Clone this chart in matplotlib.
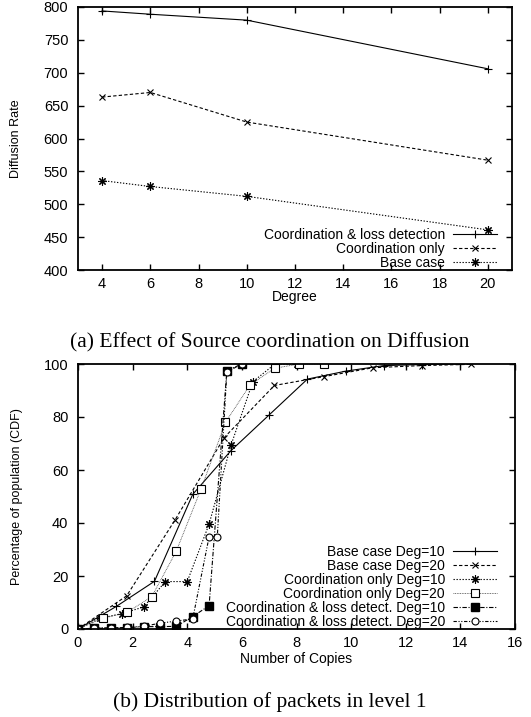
import matplotlib
matplotlib.use("Agg")
import matplotlib.pyplot as plt

plt.rcParams['font.family'] = ['Liberation Sans', 'DejaVu Sans']

# ---- Panel (a) data ----
degree = [4, 6, 10, 20]
coord_loss = [794, 789, 780, 706]
coord_only = [663, 670, 625, 567]
base_case = [536, 527, 512, 461]

# ---- Panel (b) data ----
b10_x = [0, 1.4, 2.8, 4.2, 5.6, 7.0, 8.4, 9.8, 11.2, 12.6, 14.0]
b10_y = [0, 8.5, 18.0, 50.8, 67.3, 80.8, 94.3, 97.3, 99.4, 99.8, 100]
b20_x = [0, 1.78, 3.55, 5.35, 7.19, 8.99, 10.8, 12.59, 14.4]
b20_y = [0, 12.5, 41.1, 72.2, 91.9, 95.2, 98.6, 99.4, 99.9]
c10_x = [0, 0.8, 1.6, 2.4, 3.2, 4.0, 4.8, 5.6, 6.4, 7.2, 8.0]
c10_y = [0, 4.0, 5.8, 8.3, 17.9, 17.9, 39.6, 69.3, 93.3, 99.9, 100]
c20_x = [0, 0.9, 1.8, 2.7, 3.6, 4.5, 5.4, 6.3, 7.2, 8.1, 9.0]
c20_y = [0, 4.0, 6.3, 12.2, 29.4, 52.7, 78.0, 92.1, 98.4, 100, 100]
l10_x = [0, 0.6, 1.2, 1.8, 2.4, 3.0, 3.6, 4.2, 4.8, 5.45, 6.0]
l10_y = [0, 0.3, 0.5, 0.5, 0.9, 0.9, 1.0, 4.7, 8.8, 97.5, 100]
l20_x = [0, 0.6, 1.2, 1.8, 2.4, 3.0, 3.6, 4.2, 4.8, 5.1, 5.45, 6.0]
l20_y = [0, 0.2, 0.4, 0.6, 1.0, 2.2, 3.0, 3.8, 34.8, 34.8, 97.0, 100]

W, H = 531, 717
fig = plt.figure(figsize=(W / 100, H / 100), dpi=100)

def axes_px(left, right, top, bottom):
    return fig.add_axes([left / W, 1 - bottom / H, (right - left) / W, (bottom - top) / H])

FS = 10.5
LFS = 10
lw = 0.8

def style_axes(ax):
    for s in ax.spines.values():
        s.set_linewidth(1.3)
    ax.tick_params(direction='in', length=4.3, width=1.0, top=True, right=True,
                   labelsize=FS)
    ax.tick_params(axis='y', pad=7)
    ax.tick_params(axis='x', pad=5)

# ---------- Panel (a) ----------
ax1 = axes_px(78, 512, 7, 270)
ax1.plot(degree, coord_loss, color='k', lw=lw, ls='-', marker='+', ms=6, mew=0.8,
         label='Coordination & loss detection')
ax1.plot(degree, coord_only, color='k', lw=lw, ls=(0, (3, 2)), marker='x', ms=5, mew=0.8,
         label='Coordination only')
ax1.plot(degree, base_case, color='k', lw=lw, ls=(0, (1.2, 1.5)), marker=(8, 2, 0), ms=6, mew=0.8,
         label='Base case')
ax1.set_xlim(3, 21)
ax1.set_ylim(400, 800)
ax1.set_xticks(range(4, 21, 2))
ax1.set_yticks(range(400, 801, 50))
style_axes(ax1)
ax1.set_xlabel('Degree', fontsize=10)
ax1.set_ylabel('Diffusion Rate', fontsize=9)
ax1.xaxis.set_label_coords(0.5, -0.075)
ax1.yaxis.set_label_coords(-0.129, 0.5)
ax1.legend(loc='lower right', bbox_to_anchor=(0.9654, 0.0), frameon=False,
           markerfirst=False, fontsize=LFS, handlelength=3.2, handletextpad=0.55,
           labelspacing=0.0, borderpad=0, borderaxespad=0, numpoints=1)

fig.text(270 / W, 1 - 343 / H, '(a) Effect of Source coordination on Diffusion',
         family='Liberation Serif', fontsize=15.5, ha='center', va='center')

# ---------- Panel (b) ----------
ax2 = axes_px(78, 515, 364, 629)
ax2.plot(b10_x, b10_y, color='k', lw=lw, ls='-', marker='+', ms=6, mew=0.8,
         label='Base case Deg=10')
ax2.plot(b20_x, b20_y, color='k', lw=lw, ls=(0, (3, 2)), marker='x', ms=5, mew=0.8,
         label='Base case Deg=20')
ax2.plot(c10_x, c10_y, color='k', lw=lw, ls=(0, (1.2, 1.5)), marker=(8, 2, 0), ms=6, mew=0.8,
         label='Coordination only Deg=10')
ax2.plot(c20_x, c20_y, color='#444444', lw=0.6, ls=(0, (1, 1)), marker='s', ms=5.5, mew=0.8,
         mfc='white', mec='k', label='Coordination only Deg=20')
ax2.plot(l10_x, l10_y, color='k', lw=lw, ls=(0, (4, 1.5, 1, 1.5)), marker='s', ms=5.5,
         mfc='k', mec='k', label='Coordination & loss detect. Deg=10')
ax2.plot(l20_x, l20_y, color='k', lw=lw, ls=(0, (3, 1.5, 1, 1.5, 1, 1.5)), marker='o', ms=5,
         mfc='white', mec='k', mew=0.8, label='Coordination & loss detect. Deg=20')
ax2.set_xlim(0, 16)
ax2.set_ylim(0, 100)
ax2.set_xticks(range(0, 17, 2))
ax2.set_yticks(range(0, 101, 20))
style_axes(ax2)
ax2.set_xlabel('Number of Copies', fontsize=10)
ax2.set_ylabel('Percentage of population (CDF)', fontsize=9)
ax2.xaxis.set_label_coords(0.5, -0.087)
ax2.yaxis.set_label_coords(-0.126, 0.5)
ax2.legend(loc='lower right', bbox_to_anchor=(0.9588, 0.0), frameon=False,
           markerfirst=False, fontsize=LFS, handlelength=3.2, handletextpad=0.55,
           labelspacing=0.0, borderpad=0, borderaxespad=0, numpoints=1)

fig.text(270 / W, 1 - 702 / H, '(b) Distribution of packets in level 1',
         family='Liberation Serif', fontsize=15.5, ha='center', va='center')

fig.savefig('out.png', dpi=100)
